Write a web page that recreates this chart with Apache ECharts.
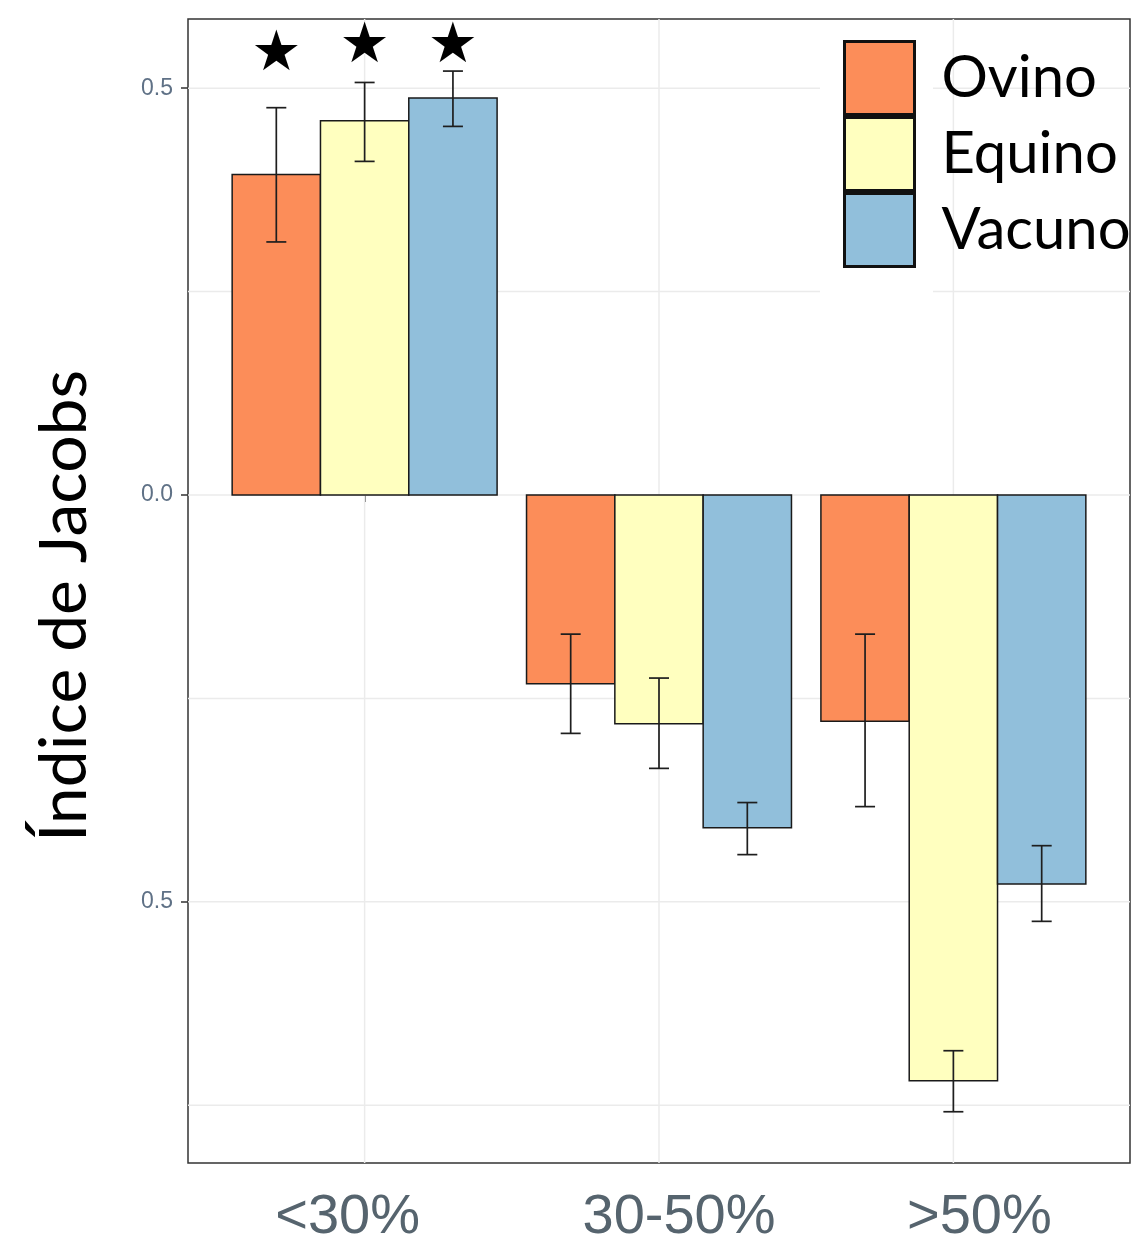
<!DOCTYPE html>
<html>
<head>
<meta charset="utf-8">
<script src="https://cdn.jsdelivr.net/npm/echarts@6/dist/echarts.min.js"></script>
<style>
html,body{margin:0;padding:0;background:#fff;}
#chart{width:1132px;height:1246px;}
</style>
</head>
<body>
<div id="chart"></div>
<script>
// ---- data ----
const categories = ['<30%', '30-50%', '>50%'];
const speciesNames = ['Ovino', 'Equino', 'Vacuno'];
const ovinoMean  = [0.394, -0.232, -0.278];
const ovinoLow   = [0.311, -0.293, -0.383];
const ovinoHigh  = [0.476, -0.171, -0.171];
const equinoMean = [0.460, -0.281, -0.720];
const equinoLow  = [0.410, -0.336, -0.758];
const equinoHigh = [0.507, -0.225, -0.683];
const vacunoMean = [0.488, -0.409, -0.478];
const vacunoLow  = [0.453, -0.442, -0.524];
const vacunoHigh = [0.521, -0.378, -0.431];
const ovinoSig  = [true, false, false];
const equinoSig = [true, false, false];
const vacunoSig = [true, false, false];
const yTickValues = [-0.5, 0, 0.5];
const yGridValues = [-0.75, -0.5, -0.25, 0, 0.25, 0.5];
const xTickValues = [1, 2, 3];

// ---- styling ----
const colors = ['#FC8D59', '#FFFFBF', '#91BFDB'];
const offsets = [-0.3, 0, 0.3];
const halfW = 0.15;
const capPx = 10;
const starLevels = [0.540, 0.550, 0.550];
const xMin = 0.4, xMax = 3.6, yMin = -0.821, yMax = 0.585;
const xLabelStyles = ['l', 'r', 'rr'];

const means = [ovinoMean, equinoMean, vacunoMean];
const lows = [ovinoLow, equinoLow, vacunoLow];
const highs = [ovinoHigh, equinoHigh, vacunoHigh];
const sigs = [ovinoSig, equinoSig, vacunoSig];

function barRender(sIdx) {
  return function (params, api) {
    const xc = api.value(0) + offsets[sIdx];
    const mean = api.value(1), lo = api.value(2), hi = api.value(3);
    const a = api.coord([xc - halfW, 0]);
    const b = api.coord([xc + halfW, mean]);
    const e0 = api.coord([xc, lo]);
    const e1 = api.coord([xc, hi]);
    const lineStyle = { stroke: '#1e1e1e', lineWidth: 1.7 };
    return {
      type: 'group',
      children: [
        { type: 'rect', shape: { x: a[0], y: Math.min(a[1], b[1]), width: b[0] - a[0], height: Math.abs(b[1] - a[1]) },
          style: { fill: colors[sIdx], stroke: '#1a1a1a', lineWidth: 1.5 } },
        { type: 'line', shape: { x1: e0[0], y1: e0[1], x2: e1[0], y2: e1[1] }, style: lineStyle },
        { type: 'line', shape: { x1: e0[0] - capPx, y1: e0[1], x2: e0[0] + capPx, y2: e0[1] }, style: lineStyle },
        { type: 'line', shape: { x1: e1[0] - capPx, y1: e1[1], x2: e1[0] + capPx, y2: e1[1] }, style: lineStyle }
      ]
    };
  };
}

const barSeries = speciesNames.map((name, s) => ({
  name: name,
  type: 'custom',
  z: 3,
  itemStyle: { color: colors[s] },
  encode: { x: 0, y: 1 },
  renderItem: barRender(s),
  data: categories.map((c, i) => [i + 1, means[s][i], lows[s][i], highs[s][i]])
}));

const starData = [];
speciesNames.forEach((n, s) => {
  categories.forEach((c, i) => { if (sigs[s][i]) starData.push([i + 1 + offsets[s], starLevels[s]]); });
});

const gridStyle = { stroke: '#ebebeb', lineWidth: 1.5 };
const xLabelText = { fontFamily: 'Liberation Sans', fontSize: 56, color: '#56646e' };

const option = {
  animation: false,
  backgroundColor: '#fff',
  grid: { left: 188, right: 2, top: 19, bottom: 81, show: true, borderColor: '#333', borderWidth: 1.5, backgroundColor: 'transparent' },
  xAxis: {
    type: 'value', min: xMin, max: xMax,
    axisLine: { show: false },
    splitLine: { show: false },
    axisTick: { show: true, customValues: xTickValues, length: 7, lineStyle: { color: '#333', width: 1.5 } },
    axisLabel: { customValues: xTickValues, margin: 27,
      formatter: v => { const i = Math.round(v) - 1; return '{' + xLabelStyles[i] + '|' + categories[i] + '}'; },
      rich: {
        l: Object.assign({ padding: [0, 34, 0, 0] }, xLabelText),
        r: Object.assign({ padding: [0, 0, 0, 40] }, xLabelText),
        rr: Object.assign({ padding: [0, 0, 0, 52] }, xLabelText)
      },
      fontFamily: 'Liberation Sans', fontSize: 56, color: '#56646e' }
  },
  yAxis: {
    type: 'value', min: yMin, max: yMax,
    axisLine: { show: false },
    splitLine: { show: false },
    axisTick: { show: true, customValues: yTickValues, length: 7, lineStyle: { color: '#333', width: 1.5 } },
    axisLabel: { customValues: yTickValues, formatter: v => Math.abs(v).toFixed(1), margin: 15,
      fontFamily: 'Liberation Sans', fontSize: 23, color: '#5f7186' },
    name: 'Índice de Jacobs', nameLocation: 'middle', nameRotate: 90, nameGap: 90,
    nameTextStyle: { fontFamily: 'Lato', fontSize: 66, color: '#000', padding: [0, 30, 0, 0] }
  },
  legend: {
    data: speciesNames, orient: 'vertical', left: 843, top: 40, padding: 0,
    icon: 'rect', itemWidth: 70, itemHeight: 73, itemGap: 0,
    itemStyle: { borderColor: '#111', borderWidth: 3 },
    textStyle: { fontFamily: 'Lato', fontSize: 58, color: '#000', padding: [0, 0, 20, 22], lineHeight: 52 },
    selectedMode: false, z: 10
  },
  graphic: [
    { type: 'rect', shape: { x: 820, y: 20, width: 113, height: 280 }, style: { fill: '#fff' }, z: 5, silent: true }
  ],
  series: [
    { type: 'custom', name: 'hgrid', silent: true, z: 1, encode: { x: 0, y: 1 },
      data: yGridValues.map(v => [1, v]),
      renderItem: (p, api) => { const a = api.coord([xMin, api.value(1)]), b = api.coord([xMax, api.value(1)]);
        return { type: 'line', shape: { x1: a[0], y1: a[1], x2: b[0], y2: b[1] }, style: gridStyle }; } },
    { type: 'custom', name: 'vgrid', silent: true, z: 1, encode: { x: 0, y: 1 },
      data: xTickValues.map(v => [v, 0]),
      renderItem: (p, api) => { const a = api.coord([api.value(0), yMin]), b = api.coord([api.value(0), yMax]);
        return { type: 'line', shape: { x1: a[0], y1: a[1], x2: b[0], y2: b[1] }, style: gridStyle }; } },
    ...barSeries,
    { type: 'custom', name: 'sig', silent: true, z: 4, encode: { x: 0, y: 1 },
      data: starData,
      renderItem: (p, api) => { const c = api.coord([api.value(0), api.value(1)]);
        return { type: 'text', x: c[0], y: c[1], style: { text: '★', fontFamily: 'DejaVu Sans', fontSize: 56, fill: '#000', align: 'center', verticalAlign: 'middle' } }; } }
  ]
};

const chart = echarts.init(document.getElementById('chart'), null, { renderer: 'canvas' });
chart.setOption(option);
</script>
</body>
</html>
